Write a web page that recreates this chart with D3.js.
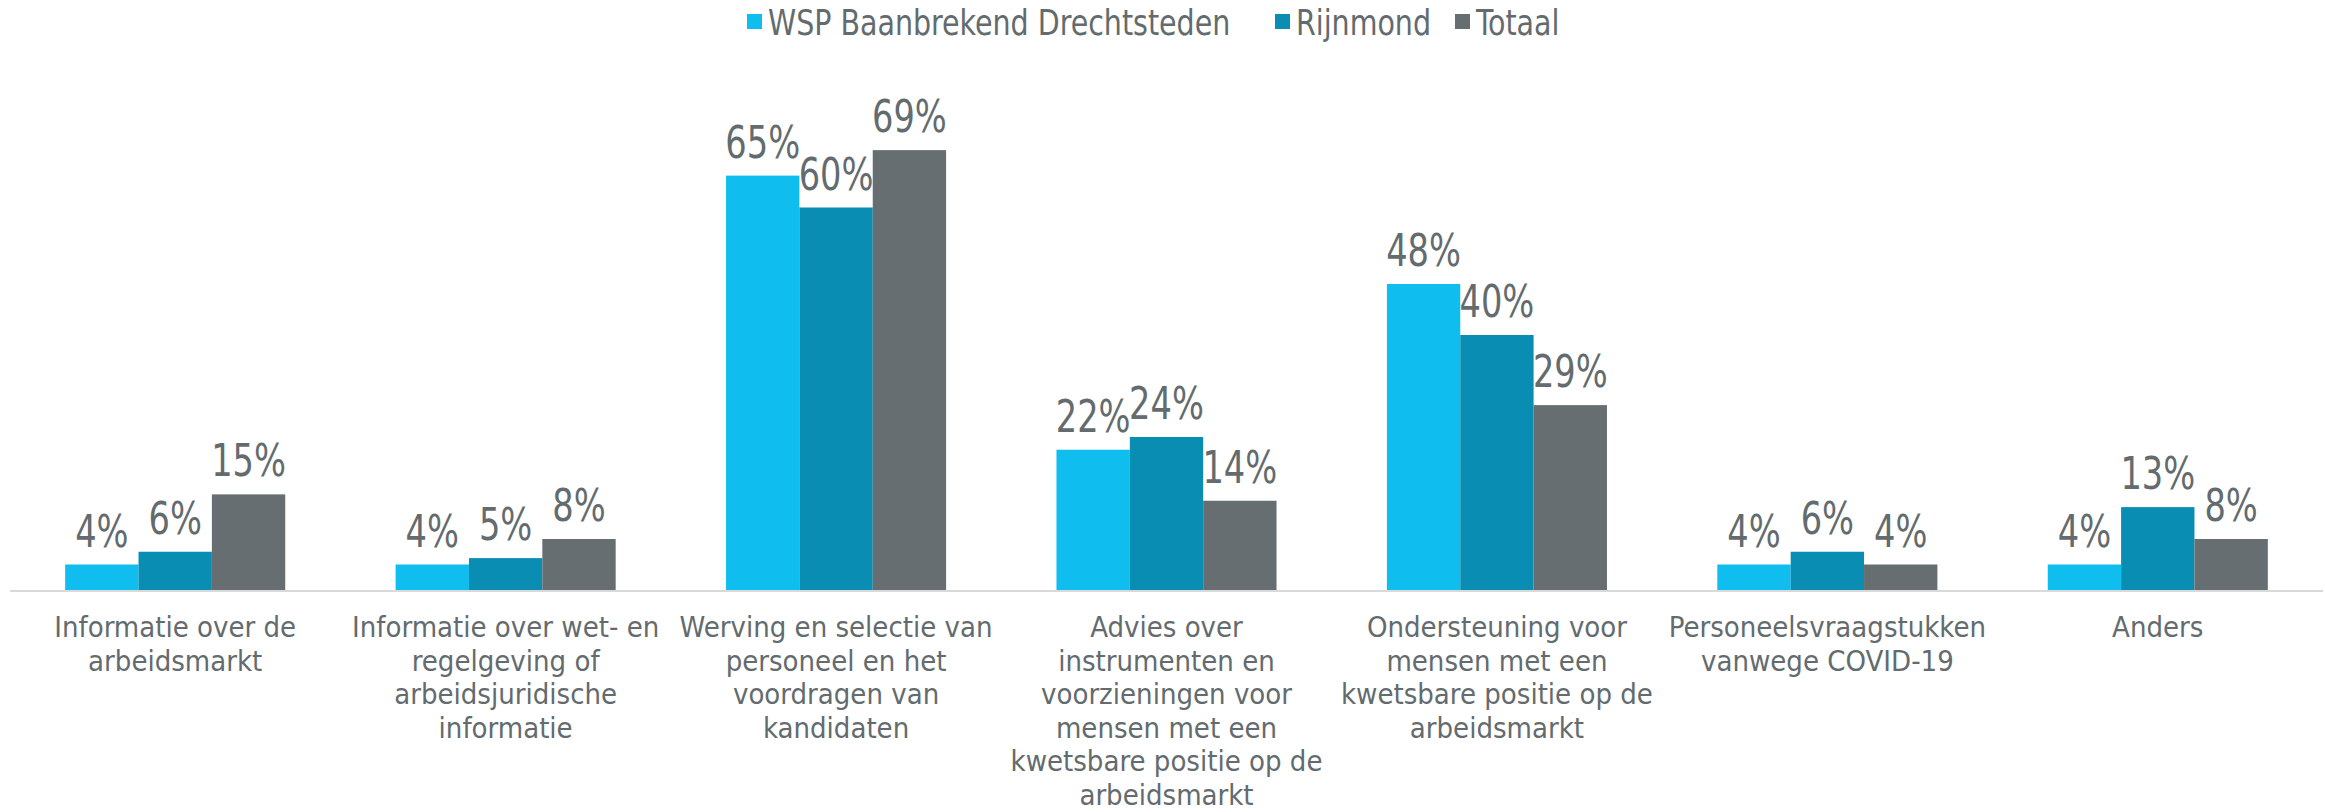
<!DOCTYPE html>
<html>
<head>
<meta charset="utf-8">
<script src="https://cdn.jsdelivr.net/npm/d3@7"></script>
<style>
	body { margin: 0; background: #fff; }
	svg { display: block; font-family: "Liberation Sans Narrow", "DejaVu Sans Condensed", sans-serif; }
</style>
</head>
<body>
<svg width="2325" height="812"></svg>
<script>
// categories, each one split into the lines shown under the axis
var categories = [
	'Informatie over de arbeidsmarkt',
	'Informatie over wet- en regelgeving of arbeidsjuridische informatie',
	'Werving en selectie van personeel en het voordragen van kandidaten',
	'Advies over instrumenten en voorzieningen voor mensen met een kwetsbare positie op de arbeidsmarkt',
	'Ondersteuning voor mensen met een kwetsbare positie op de arbeidsmarkt',
	'Personeelsvraagstukken vanwege COVID-19',
	'Anders'
];
var categoryLines = [
	['Informatie over de', 'arbeidsmarkt'],
	['Informatie over wet- en', 'regelgeving of', 'arbeidsjuridische', 'informatie'],
	['Werving en selectie van', 'personeel en het', 'voordragen van', 'kandidaten'],
	['Advies over', 'instrumenten en', 'voorzieningen voor', 'mensen met een', 'kwetsbare positie op de', 'arbeidsmarkt'],
	['Ondersteuning voor', 'mensen met een', 'kwetsbare positie op de', 'arbeidsmarkt'],
	['Personeelsvraagstukken', 'vanwege COVID-19'],
	['Anders']
];
var seriesNames = ['WSP Baanbrekend Drechtsteden', 'Rijnmond', 'Totaal'];
var seriesColors = ['#0fbdee', '#0a8db3', '#666e71'];
var wspValues = [0.04, 0.04, 0.65, 0.22, 0.48, 0.04, 0.04];
var rijnmondValues = [0.06, 0.05, 0.60, 0.24, 0.40, 0.06, 0.13];
var totaalValues = [0.15, 0.08, 0.69, 0.14, 0.29, 0.04, 0.08];

var textColor = '#636b6e';

var svg = d3.select('svg'),
	baseY = 590,
	topY = 80;

var table = categories.map(function(c, i) {
	return {cat: c, lines: categoryLines[i], values: [wspValues[i], rijnmondValues[i], totaalValues[i]]};
});

var x0 = d3.scaleBand()
	.domain(categories)
	.range([10, 2323])
	.paddingInner(0.334)
	.paddingOuter(0.167);

var x1 = d3.scaleBand()
	.domain(seriesNames)
	.range([0, x0.bandwidth()]);

var y = d3.scaleLinear()
	.domain([0, 0.8])
	.range([baseY, topY]);

var pct = d3.format('.0%');

// baseline
svg.append('line')
	.attr('x1', 10).attr('x2', 2323)
	.attr('y1', baseY + 1).attr('y2', baseY + 1)
	.attr('stroke', '#d9d9d9')
	.attr('stroke-width', 2);

var groups = svg.selectAll('g.grp')
	.data(table)
	.enter().append('g')
	.attr('class', 'grp')
	.attr('transform', function(d) { return 'translate(' + x0(d.cat) + ',0)'; });

var cells = groups.selectAll('g.cell')
	.data(function(d) {
		return d.values.map(function(v, j) { return {s: seriesNames[j], v: v, c: seriesColors[j]}; });
	})
	.enter().append('g')
	.attr('class', 'cell');

cells.append('rect')
	.attr('x', function(d) { return x1(d.s); })
	.attr('y', function(d) { return y(d.v); })
	.attr('width', x1.bandwidth())
	.attr('height', function(d) { return baseY - y(d.v); })
	.attr('fill', function(d) { return d.c; });

// narrow font is missing, so squeeze the labels a bit
cells.append('text')
	.attr('transform', function(d) {
		return 'translate(' + (x1(d.s) + x1.bandwidth() / 2) + ',' + (y(d.v) - 18) + ') scale(0.85,1)';
	})
	.attr('text-anchor', 'middle')
	.attr('fill', textColor)
	.style('font-size', '44px')
	.text(function(d) { return pct(d.v); });

// category labels
var labels = groups.append('text')
	.attr('text-anchor', 'middle')
	.attr('fill', textColor)
	.style('font-size', '29px');

labels.selectAll('tspan')
	.data(function(d) { return d.lines; })
	.enter().append('tspan')
	.attr('x', x0.bandwidth() / 2)
	.attr('y', function(d, i) { return 637 + i * 33.6; })
	.text(function(d) { return d; });

// legend
var legendX = [747, 1275, 1455];
var legend = svg.selectAll('g.legend')
	.data(seriesNames)
	.enter().append('g')
	.attr('class', 'legend')
	.attr('transform', function(d, i) { return 'translate(' + legendX[i] + ',0)'; });

legend.append('rect')
	.attr('x', 0).attr('y', 14)
	.attr('width', 15).attr('height', 15)
	.attr('fill', function(d, i) { return seriesColors[i]; });

legend.append('text')
	.attr('transform', 'translate(21,35) scale(0.88,1)')
	.attr('fill', textColor)
	.style('font-size', '36px')
	.text(function(d) { return d; });
</script>
</body>
</html>
